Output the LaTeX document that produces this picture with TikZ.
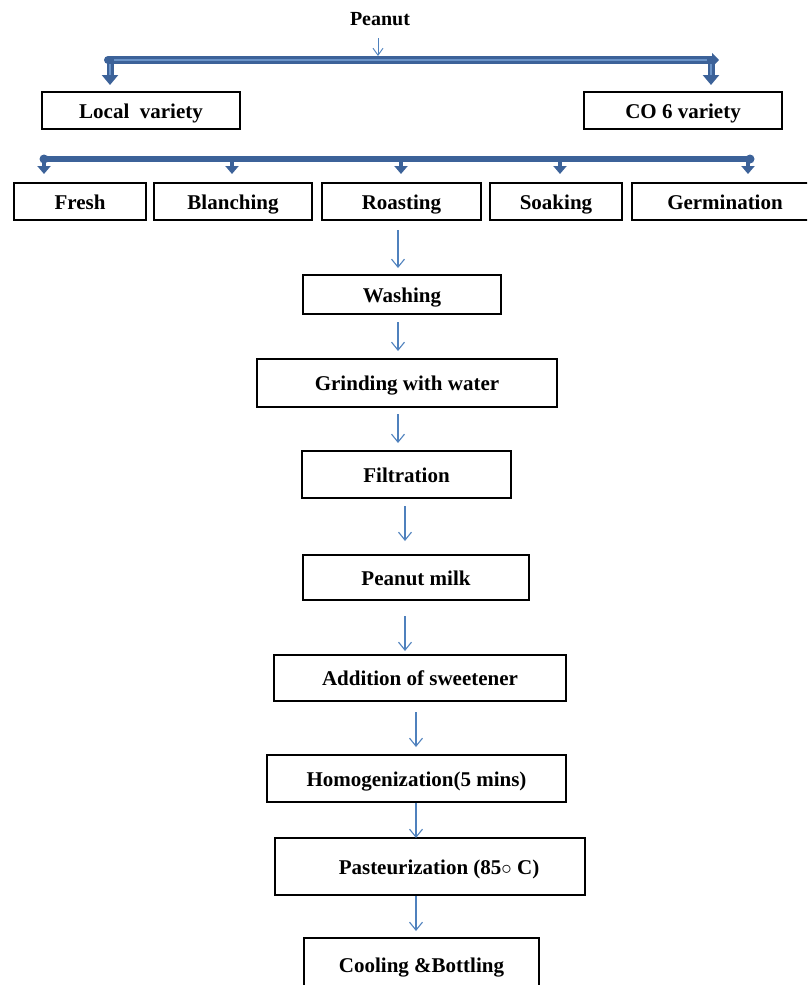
\documentclass[tikz,border=0pt]{standalone}
\usepackage{fontspec}
\setmainfont{Liberation Serif}
\usetikzlibrary{arrows.meta}
\definecolor{darkb}{HTML}{3C6299}
\definecolor{lightb}{HTML}{6A93C8}
\definecolor{thinb}{HTML}{4F81BD}
\tikzset{
  boxfont/.style={font=\fontsize{21}{24}\selectfont\bfseries},
  box/.style={draw=black, line width=2.6pt, rectangle, inner sep=0pt, boxfont, text height=16pt, text depth=1pt},
  thinarrow/.style={draw=thinb, line width=1.1pt, -{Straight Barb[length=8pt,width=13pt,line width=1.1pt]}},
  thickarrow/.style={draw=darkb, line width=7pt, -{Triangle[length=10pt,width=16pt]}},
  thickline/.style={draw=darkb, line width=5.5pt},
  innerline/.style={draw=lightb, line width=1.5pt}
}
\begin{document}
\begin{tikzpicture}[x=1pt,y=-1pt]
\useasboundingbox (0,0) rectangle (807,985);
\clip (0,0) rectangle (807,985);

% title
\node[font=\fontsize{20}{22}\selectfont\bfseries] (peanut) at (380,19) {Peanut};
\coordinate (pa) at (378,38);
\coordinate (pb) at (378,56);
\draw[thinarrow, line width=0.9pt, -{Straight Barb[length=7pt,width=10pt,line width=0.9pt]}] (pa) -- (pb);

% variety boxes
\node[box, minimum width=198, minimum height=37] (local) at (141,110.5) {Local\ \ variety};
\node[box, minimum width=198, minimum height=37] (co6) at (683,110.5) {CO 6 variety};

% top double bar
\coordinate (tl) at (108,60);
\coordinate (tr) at (719,60);
\coordinate (tlv) at (110,58);
\coordinate (trv) at (711,58);
\coordinate (tld) at (110,85);
\coordinate (trd) at (711,85);
\draw[thickarrow, line width=8pt, -{Triangle[length=7pt,width=14pt]}] (tl) -- (tr);
\draw[innerline] (114,60) -- (707,60);
\fill[darkb] (108,60) circle (4);
\draw[thickarrow] (tlv) -- (tld);
\draw[thickarrow] (trv) -- (trd);
\draw[innerline] (110,64) -- (110,75);
\draw[innerline] (711,64) -- (711,75);

% processing row
\node[box, minimum width=132, minimum height=37] (fresh) at (80,201.5) {Fresh};
\node[box, minimum width=158, minimum height=37] (blanch) at (233,201.5) {Blanching};
\node[box, minimum width=159, minimum height=37] (roast) at (401.5,201.5) {Roasting};
\node[box, minimum width=132, minimum height=37] (soak) at (556,201.5) {Soaking};
\node[box, minimum width=188, minimum height=37] (germ) at (726,201.5) {};
\node[boxfont, text height=16pt, text depth=1pt, inner sep=0pt] (germt) at (725,201.5) {Germination};

% second bar
\coordinate (bl) at (44,159);
\coordinate (br) at (750,159);
\draw[thickline] (bl) -- (br);
\fill[darkb] (bl) circle (4.5);
\fill[darkb] (br) circle (4.5);
\foreach \x/\n in {44/a,232/b,401/c,560/d,748/e}{
  \coordinate (s\n) at (\x,159);
  \coordinate (e\n) at (\x,174);
  \draw[thickarrow, line width=4.5pt, -{Triangle[length=8pt,width=13pt]}] (s\n) -- (e\n);
}

% vertical chain
\node[box, minimum width=198, minimum height=39] (wash) at (402,294.5) {Washing};
\node[box, minimum width=300, minimum height=48] (grind) at (407,383) {Grinding with water};
\node[box, minimum width=209, minimum height=47] (filt) at (406.5,474.5) {Filtration};
\node[box, minimum width=226, minimum height=45] (milk) at (416,577.5) {Peanut milk};
\node[box, minimum width=292, minimum height=46] (sweet) at (420,678) {Addition of sweetener};
\node[box, minimum width=299, minimum height=47] (homog) at (416.5,778.5) {Homogenization(5 mins)};
\node[box, minimum width=310, minimum height=57] (past) at (430,866.5) {\hspace*{18pt}Pasteurization (85$\circ$ C)};
\node[box, minimum width=235, minimum height=62] (cool) at (421.5,969) {};
\node[boxfont, anchor=base] (coolt) at (421.5,972) {Cooling \&Bottling};

\coordinate (a1) at (398,230); \coordinate (b1) at (398,268);
\coordinate (a2) at (398,322); \coordinate (b2) at (398,351);
\coordinate (a3) at (398,414); \coordinate (b3) at (398,443);
\coordinate (a4) at (405,506); \coordinate (b4) at (405,541);
\coordinate (a5) at (405,616); \coordinate (b5) at (405,651);
\coordinate (a6) at (416,712); \coordinate (b6) at (416,747);
\coordinate (a7) at (416,803); \coordinate (b7) at (416,838);
\coordinate (a8) at (416,896); \coordinate (b8) at (416,931);
\foreach \i in {1,...,8}{ \draw[thinarrow] (a\i) -- (b\i); }
\end{tikzpicture}
\end{document}
